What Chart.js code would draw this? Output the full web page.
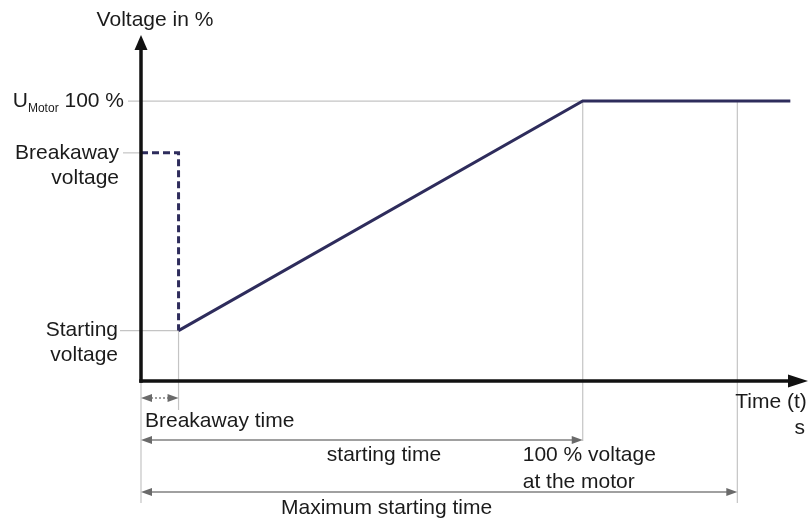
<!DOCTYPE html>
<html>
<head>
<meta charset="utf-8">
<script src="https://cdn.jsdelivr.net/npm/chart.js@4.4.1/dist/chart.umd.min.js"></script>
<style>
  body { margin: 0; background: #fff; }
  #wrap { width: 811px; height: 523px; }
</style>
</head>
<body>
<div id="wrap"><canvas id="softStartChart"></canvas></div>
<script>
// Soft starter voltage ramp (time in s, voltage in %)
const kickTime = [0, 0.85, 0.85];
const kickVoltage = [81.5, 81.5, 18];
const rampTime = [0.85, 10, 14.7];
const rampVoltage = [18, 100, 100];

// breakaway time, starting time, maximum starting time
const timeMarks = [0.85, 10, 13.5];
const timeLabels = ['Breakaway time', 'starting time', 'Maximum starting time'];
// starting voltage, breakaway voltage, motor voltage
const voltageMarks = [18, 81.5, 100];
const voltageLabels = [['Starting', 'voltage'], ['Breakaway', 'voltage'], ['100 %']];

const FONT = '21px "Liberation Sans", Arial, sans-serif';
const TEXT = '#1b1b1b';
const GUIDE = '#c4c4c4';
const DIM = '#808080';
const RAMP = '#2e2c5c';

function toPoints(xs, ys) {
    return xs.map(function(x, i) { return { x: x, y: ys[i] }; });
}

function arrowHead(ctx, x, y, dir, len, half, color) {
    ctx.fillStyle = color;
    ctx.beginPath();
    if (dir === 'left' || dir === 'right') {
        const s = dir === 'right' ? -1 : 1;
        ctx.moveTo(x, y);
        ctx.lineTo(x + s * len, y - half);
        ctx.lineTo(x + s * len, y + half);
    } else {
        const s = dir === 'down' ? -1 : 1;
        ctx.moveTo(x, y);
        ctx.lineTo(x - half, y + s * len);
        ctx.lineTo(x + half, y + s * len);
    }
    ctx.closePath();
    ctx.fill();
}

function line(ctx, x1, y1, x2, y2, color, width, dash) {
    ctx.save();
    ctx.strokeStyle = color;
    ctx.lineWidth = width;
    ctx.setLineDash(dash || []);
    ctx.beginPath();
    ctx.moveTo(x1, y1);
    ctx.lineTo(x2, y2);
    ctx.stroke();
    ctx.restore();
}

// gray helper lines behind the curve
const guidePlugin = {
    id: 'guides',
    beforeDatasetsDraw(chart) {
        const ctx = chart.ctx;
        const xs = chart.scales.x, ys = chart.scales.y;
        const x0 = xs.getPixelForValue(0);
        const y0 = ys.getPixelForValue(0);
        const xb = xs.getPixelForValue(timeMarks[0]);
        const xsT = xs.getPixelForValue(timeMarks[1]);
        const xm = xs.getPixelForValue(timeMarks[2]);
        const yS = ys.getPixelForValue(voltageMarks[0]);
        const yB = ys.getPixelForValue(voltageMarks[1]);
        const yM = ys.getPixelForValue(voltageMarks[2]);

        line(ctx, x0 - 21, yS, xb, yS, GUIDE, 1.2);
        line(ctx, x0 - 18, yB, x0, yB, GUIDE, 1.2);
        line(ctx, x0 - 13, yM, xm, yM, GUIDE, 1.2);

        line(ctx, x0, y0, x0, y0 + 122, GUIDE, 1.2);
        line(ctx, xb, yS, xb, y0 + 29, GUIDE, 1.2);
        line(ctx, xsT, yM, xsT, y0 + 60, GUIDE, 1.2);
        line(ctx, xm, yM, xm, y0 + 122, GUIDE, 1.2);
    }
};

// axes, dimension arrows and text
const annotatePlugin = {
    id: 'annotate',
    afterDatasetsDraw(chart) {
        const ctx = chart.ctx;
        const area = chart.chartArea;
        const xs = chart.scales.x, ys = chart.scales.y;
        const x0 = xs.getPixelForValue(0);
        const y0 = ys.getPixelForValue(0);

        // axes
        line(ctx, x0, y0 + 1.7, x0, area.top + 12, '#111', 3.5);
        arrowHead(ctx, x0, area.top, 'up', 15, 6.5, '#111');
        line(ctx, x0 - 1.7, y0, area.right - 18, y0, '#111', 3.5);
        arrowHead(ctx, area.right, y0, 'right', 20, 6.5, '#111');

        // dimension arrows
        const dimY = [y0 + 17, y0 + 59, y0 + 111];
        timeMarks.forEach(function(t, i) {
            const xe = xs.getPixelForValue(t);
            line(ctx, x0 + 6, dimY[i], xe - 6, dimY[i], DIM, 1.5, i === 0 ? [2, 2] : []);
            arrowHead(ctx, x0, dimY[i], 'left', 11, 4, '#6a6a6a');
            arrowHead(ctx, xe, dimY[i], 'right', 11, 4, '#6a6a6a');
        });

        ctx.save();
        ctx.font = FONT;
        ctx.fillStyle = TEXT;
        ctx.textBaseline = 'middle';

        // y axis title
        ctx.textAlign = 'center';
        ctx.fillText('Voltage in %', x0 + 14, 20);

        // voltage labels
        ctx.textAlign = 'right';
        const yS = ys.getPixelForValue(voltageMarks[0]);
        const yB = ys.getPixelForValue(voltageMarks[1]);
        const yM = ys.getPixelForValue(voltageMarks[2]);
        ctx.fillText(voltageLabels[0][0], x0 - 23, yS);
        ctx.fillText(voltageLabels[0][1], x0 - 23, yS + 25);
        ctx.fillText(voltageLabels[1][0], x0 - 22, yB);
        ctx.fillText(voltageLabels[1][1], x0 - 22, yB + 25);

        // U_Motor 100 %
        const right = x0 - 17;
        const mainW = ctx.measureText(' ' + voltageLabels[2][0]).width;
        ctx.fillText(' ' + voltageLabels[2][0], right, yM);
        ctx.font = '12px "Liberation Sans", Arial, sans-serif';
        const subW = ctx.measureText('Motor').width;
        ctx.fillText('Motor', right - mainW, yM + 8);
        ctx.font = FONT;
        ctx.fillText('U', right - mainW - subW, yM);

        // time labels
        ctx.textAlign = 'left';
        ctx.fillText(timeLabels[0], x0 + 4, y0 + 40);
        ctx.textAlign = 'center';
        ctx.fillText(timeLabels[1], 384, y0 + 74);
        ctx.textAlign = 'left';
        ctx.fillText(timeLabels[2], 281, y0 + 127);

        const xsT = xs.getPixelForValue(timeMarks[1]);
        ctx.fillText('100 % voltage', xsT - 60, y0 + 74);
        ctx.fillText('at the motor', xsT - 60, y0 + 101);

        // x axis title
        ctx.fillText('Time (t)', xs.getPixelForValue(timeMarks[2]) - 2, y0 + 21);
        ctx.textAlign = 'right';
        ctx.fillText('s', area.right - 3, y0 + 47);
        ctx.restore();
    }
};

const ctx = document.getElementById('softStartChart');
new Chart(ctx, {
    type: 'scatter',
    data: {
        datasets: [{
            label: 'Breakaway pulse',
            data: toPoints(kickTime, kickVoltage),
            showLine: true,
            borderColor: RAMP,
            borderWidth: 3,
            borderDash: [7, 4],
            pointRadius: 0,
            clip: false
        }, {
            label: 'Voltage ramp',
            data: toPoints(rampTime, rampVoltage),
            showLine: true,
            borderColor: RAMP,
            borderWidth: 3,
            pointRadius: 0,
            clip: false
        }]
    },
    options: {
        responsive: true,
        maintainAspectRatio: false,
        animation: false,
        layout: {
            padding: { left: 141, right: 3, top: 35, bottom: 142 }
        },
        scales: {
            x: { type: 'linear', min: 0, max: 15.1, display: false },
            y: { type: 'linear', min: 0, max: 123.6, display: false }
        },
        plugins: {
            legend: { display: false },
            tooltip: { enabled: false }
        }
    },
    plugins: [guidePlugin, annotatePlugin]
});
</script>
</body>
</html>
